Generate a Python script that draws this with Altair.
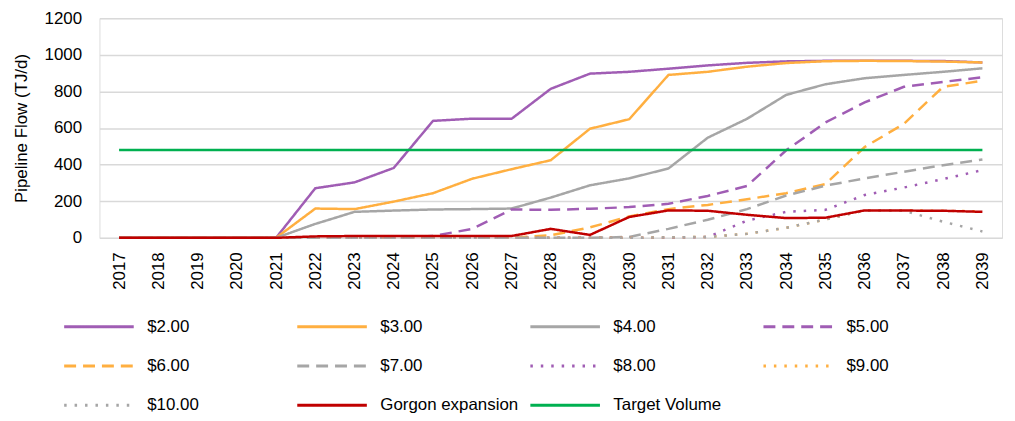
import altair as alt
import pandas as pd

years = list(range(2017, 2040))

series_names = ["$2.00", "$3.00", "$4.00", "$5.00", "$6.00", "$7.00",
                "$8.00", "$9.00", "$10.00", "Gorgon expansion", "Target Volume"]

p2 = [0, 0, 0, 0, 0, 271, 303, 382, 639, 651, 650, 814, 897, 907, 924, 942, 956, 964, 967, 967, 967, 966, 958]
p3 = [0, 0, 0, 0, 0, 160, 157, 198, 244, 323, 375, 424, 596, 648, 890, 907, 935, 955, 965, 967, 966, 963, 958]
p4 = [0, 0, 0, 0, 0, 76, 142, 149, 155, 157, 160, 220, 287, 325, 379, 547, 650, 781, 839, 872, 890, 907, 926]
p5 = [0, 0, 0, 0, 0, 0, 0, 0, 10, 49, 155, 153, 159, 168, 186, 229, 283, 478, 630, 740, 825, 852, 877]
p6 = [0, 0, 0, 0, 0, 0, 0, 0, 0, 0, 0, 14, 57, 117, 157, 180, 211, 244, 294, 496, 623, 825, 858]
p7 = [0, 0, 0, 0, 0, 0, 0, 0, 0, 0, 0, 0, 0, 5, 49, 99, 157, 231, 285, 325, 361, 397, 428]
p8 = [0, 0, 0, 0, 0, 0, 0, 0, 0, 0, 0, 0, 0, 0, 0, 5, 94, 142, 153, 234, 275, 321, 370]
p9 = [0, 0, 0, 0, 0, 0, 0, 0, 0, 0, 0, 0, 0, 0, 3, 5, 22, 55, 100, 150, 150, 148, 145]
p10 = [0, 0, 0, 0, 0, 0, 0, 0, 0, 0, 0, 0, 0, 0, 3, 5, 22, 55, 100, 150, 148, 88, 35]
gorgon = [0, 0, 0, 0, 0, 8, 10, 10, 10, 10, 10, 49, 16, 114, 150, 148, 126, 108, 110, 150, 149, 148, 142]
target = [480, 480, 480, 480, 480, 480, 480, 480, 480, 480, 480, 480, 480, 480, 480, 480, 480, 480, 480, 480, 480, 480, 480]

y_ticks = [0, 200, 400, 600, 800, 1000, 1200]

colors = ["#A05DB4", "#FFAF40", "#A6A6A6", "#A05DB4", "#FFAF40", "#A6A6A6",
          "#A05DB4", "#FFAF40", "#A6A6A6", "#C00000", "#00B050"]
solid = [1, 0]
dash = [12, 7]
dot = [2.5, 8]
dashes = [solid, solid, solid, dash, dash, dash, dot, dot, dot, solid, solid]

all_values = [p2, p3, p4, p5, p6, p7, p8, p9, p10, gorgon, target]
rows = []
for name, vals in zip(series_names, all_values):
    for yr, v in zip(years, vals):
        rows.append({"year": str(yr), "series": name, "value": v})
df = pd.DataFrame(rows)

FONT = "Liberation Sans"

legend = alt.Legend(
    title=None, orient="none", legendX=-37, legendY=300.5, columns=4,
    direction="horizontal",
    gridAlign="all", symbolType="stroke", symbolSize=4900, symbolStrokeWidth=3,
    clipHeight=20, rowPadding=19.5, columnPadding=10.5, labelOffset=12,
    labelFontSize=17, labelFont=FONT, labelColor="black", symbolOffset=0,
    labelLimit=300, padding=0,
)

chart = alt.Chart(df).mark_line(strokeWidth=2.5).encode(
    x=alt.X("year:O", sort=[str(y) for y in years],
            scale=alt.Scale(type="point", padding=0.5),
            axis=alt.Axis(title=None, labelAngle=-90, ticks=False, domain=False,
                          grid=False, labelPadding=14, labelFontSize=17,
                          labelFont=FONT, labelColor="black")),
    y=alt.Y("value:Q", scale=alt.Scale(domain=[0, 1200]),
            axis=alt.Axis(values=y_ticks, format="d", grid=True, gridColor="#D9D9D9", gridWidth=1.5,
                          domain=False, ticks=False, labelPadding=18, labelFontSize=17,
                          labelFont=FONT, labelColor="black",
                          title="Pipeline Flow (TJ/d)", titleX=-78, titleY=110.5,
                          titleBaseline="middle", titleFontWeight="normal",
                          titleFontSize=17, titleFont=FONT, titleColor="black")),
    color=alt.Color("series:N", sort=series_names,
                    scale=alt.Scale(domain=series_names, range=colors), legend=legend),
    strokeDash=alt.StrokeDash("series:N", sort=series_names,
                              scale=alt.Scale(domain=series_names, range=dashes), legend=legend),
).properties(
    width=908, height=221,
    autosize=alt.AutoSizeParams(type="none"),
    padding={"left": 92, "top": 9, "right": 5, "bottom": 180},
).configure_view(stroke=None).configure(background="white")

chart.save("out.html", embed_options={"renderer": "svg", "actions": False})
